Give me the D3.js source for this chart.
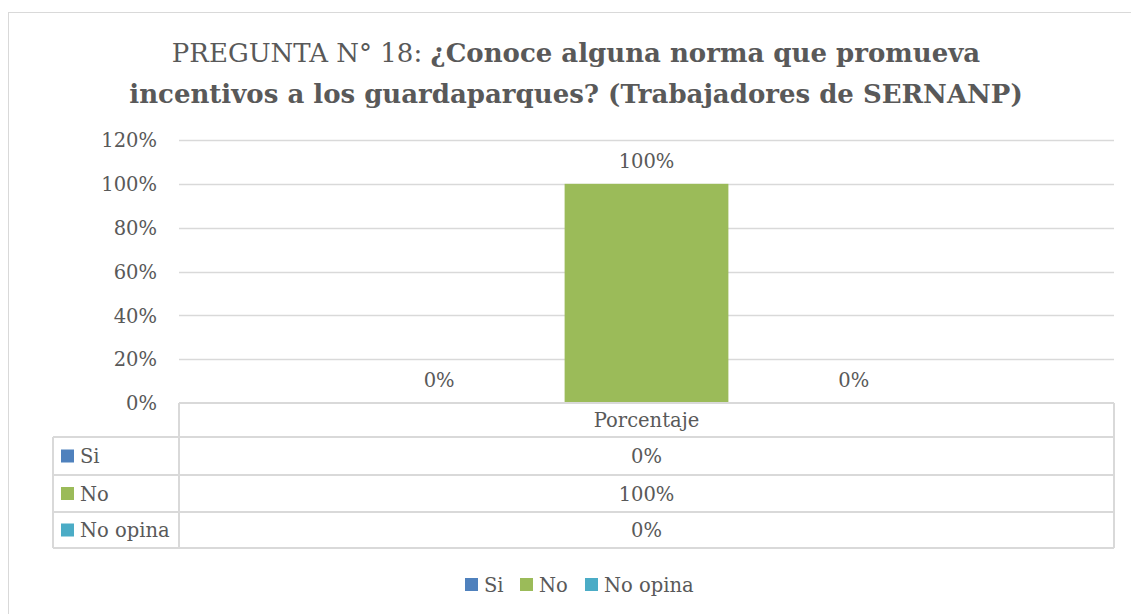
<!DOCTYPE html>
<html>
<head>
<meta charset="utf-8">
<script src="https://cdn.jsdelivr.net/npm/d3@7"></script>
<style>
  body { margin: 0; background: #fff; }
  svg text { font-family: "DejaVu Serif", serif; fill: #595959; }
</style>
</head>
<body>
<svg id="chart" width="1131" height="614"></svg>
<script>
// data
var categories = ["Porcentaje"];
var seriesNames = ["Si", "No", "No opina"];
var seriesValues = [0, 1, 0];
var seriesColors = ["#4F81BD", "#9BBB59", "#4BACC6"];
var yTicks = [0, 0.2, 0.4, 0.6, 0.8, 1.0, 1.2];

var svg = d3.select("#chart");
var fmt = d3.format(".0%");
var fs = 19.5;

// outer frame
svg.append("rect")
    .attr("x", 8.5).attr("y", 12.5)
    .attr("width", 1140).attr("height", 620)
    .attr("fill", "none").attr("stroke", "#D9D9D9");

// title
var title = svg.append("text").attr("text-anchor", "middle").attr("font-size", 26);
var l1 = title.append("tspan").attr("x", 576).attr("y", 62);
l1.append("tspan").text("PREGUNTA N° 18: ");
l1.append("tspan").attr("font-weight", "bold").text("¿Conoce alguna norma que promueva");
title.append("tspan").attr("x", 576).attr("y", 103)
    .attr("font-weight", "bold").text("incentivos a los guardaparques? (Trabajadores de SERNANP)");

var pLeft = 179, pRight = 1114, pTop = 140, pBottom = 403;

var y = d3.scaleLinear().domain([0, 1.2]).range([pBottom, pTop]);
var x0 = d3.scaleBand().domain(categories).range([pLeft, pRight]);
var x1 = d3.scaleBand().domain(seriesNames).range([0, x0.bandwidth()]).paddingInner(0.21).paddingOuter(0.86);

// gridlines
svg.append("g").selectAll("line")
    .data(yTicks.filter(function(d) { return d > 0; }))
    .enter().append("line")
    .attr("x1", pLeft).attr("x2", pRight)
    .attr("y1", function(d) { return Math.round(y(d)) + 0.5; })
    .attr("y2", function(d) { return Math.round(y(d)) + 0.5; })
    .attr("stroke", "#D9D9D9").attr("stroke-width", 1.5);

// y axis labels
var yAxis = d3.axisLeft(y).tickValues(yTicks).tickFormat(fmt).tickSize(0).tickPadding(0);
var ya = svg.append("g").attr("transform", "translate(157,0)").call(yAxis);
ya.select(".domain").remove();
ya.attr("font-family", null).attr("font-size", null);
ya.selectAll("text").attr("font-size", fs).attr("dy", "0.35em");

// bars
var bars = svg.append("g");
categories.forEach(function(c) {
  seriesNames.forEach(function(s, i) {
    var bx = x0(c) + x1(s);
    bars.append("rect")
        .attr("x", bx).attr("width", x1.bandwidth())
        .attr("y", y(seriesValues[i]))
        .attr("height", y(0) - y(seriesValues[i]))
        .attr("fill", seriesColors[i]);
    bars.append("text")
        .attr("x", bx + x1.bandwidth() / 2)
        .attr("y", y(seriesValues[i]) - 16)
        .attr("text-anchor", "middle").attr("font-size", fs)
        .text(fmt(seriesValues[i]));
  });
});

// data table
var tLeft = 53, rowH = [403, 437, 475, 512, 548];
var tbl = svg.append("g").attr("stroke", "#D9D9D9").attr("stroke-width", 2);
tbl.append("line").attr("x1", pLeft).attr("x2", pRight).attr("y1", pBottom).attr("y2", pBottom);
tbl.selectAll(".h").data(rowH.slice(1)).enter().append("line")
    .attr("x1", tLeft).attr("x2", pRight).attr("y1", function(d) { return d; }).attr("y2", function(d) { return d; });
tbl.append("line").attr("x1", pLeft).attr("x2", pLeft).attr("y1", pBottom).attr("y2", rowH[4]);
tbl.append("line").attr("x1", pRight).attr("x2", pRight).attr("y1", pBottom).attr("y2", rowH[4]);
tbl.append("line").attr("x1", tLeft).attr("x2", tLeft).attr("y1", rowH[1]).attr("y2", rowH[4]);

svg.append("text").attr("x", x0("Porcentaje") + x0.bandwidth() / 2).attr("y", 427)
    .attr("text-anchor", "middle").attr("font-size", fs).text(categories[0]);

seriesNames.forEach(function(s, i) {
  var cy = (rowH[i + 1] + rowH[i + 2]) / 2;
  svg.append("rect").attr("x", 61).attr("y", cy - 6.5).attr("width", 13).attr("height", 13).attr("fill", seriesColors[i]);
  svg.append("text").attr("x", 80).attr("y", cy + 7).attr("font-size", fs).text(s);
  svg.append("text").attr("x", x0("Porcentaje") + x0.bandwidth() / 2).attr("y", cy + 7)
      .attr("text-anchor", "middle").attr("font-size", fs).text(fmt(seriesValues[i]));
});

// legend
var legX = [465, 520, 585];
seriesNames.forEach(function(s, i) {
  svg.append("rect").attr("x", legX[i]).attr("y", 578).attr("width", 13).attr("height", 13).attr("fill", seriesColors[i]);
  svg.append("text").attr("x", legX[i] + 19).attr("y", 592).attr("font-size", fs).text(s);
});
</script>
</body>
</html>
